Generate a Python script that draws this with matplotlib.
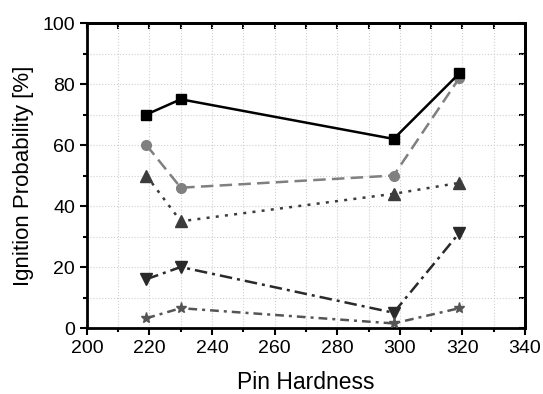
import matplotlib.pyplot as plt
from matplotlib.ticker import MultipleLocator

plt.rcParams['font.family'] = ['Liberation Sans', 'DejaVu Sans']

hardness = [219, 230, 298, 319]
series_sq = [70, 75, 62, 83.5]
series_circ = [60, 46, 50, 82]
series_up = [50, 35, 44, 47.6]
series_down = [16, 20, 5, 31.2]
series_star = [3.2, 6.5, 1.5, 6.5]

fig = plt.figure(figsize=(5.43, 3.94), dpi=100)
ax = fig.add_axes([0.160, 0.1675, 0.807, 0.774])

ax.plot(hardness, series_sq, color='black', ls='-', lw=1.8,
        marker='s', ms=7, zorder=5)
ax.plot(hardness, series_circ, color='#808080', ls=(0, (5, 2.5)), lw=1.8,
        marker='o', ms=7, zorder=4)
ax.plot(hardness, series_up, color='#3c3c3c', ls=(0, (1.2, 2.5)), lw=1.8,
        marker='^', ms=8, zorder=4)
ax.plot(hardness, series_down, color='#2a2a2a', ls=(0, (5, 2, 1.2, 2)), lw=1.8,
        marker='v', ms=8, zorder=4)
ax.plot(hardness, series_star, color='#555555', ls=(0, (3.5, 2, 1.2, 2)), lw=1.8,
        marker='*', ms=8, zorder=4)

ax.set_xlim(200, 340)
ax.set_ylim(0, 100)
ax.xaxis.set_major_locator(MultipleLocator(20))
ax.xaxis.set_minor_locator(MultipleLocator(10))
ax.yaxis.set_major_locator(MultipleLocator(20))
ax.yaxis.set_minor_locator(MultipleLocator(10))
ax.grid(True, which='both', color='#d0d0d0', ls=':', lw=0.8)
ax.set_axisbelow(True)

for s in ax.spines.values():
    s.set_linewidth(2)

ax.tick_params(which='both', direction='out', width=1.5, labelsize=14,
               top=False, right=False)
ax.tick_params(which='major', length=5)
ax.tick_params(which='minor', length=3)
sec_x = ax.secondary_xaxis('top')
sec_x.xaxis.set_major_locator(MultipleLocator(10))
sec_x.tick_params(direction='in', length=4, width=1.5, labeltop=False)
sec_y = ax.secondary_yaxis('right')
sec_y.yaxis.set_major_locator(MultipleLocator(10))
sec_y.tick_params(direction='in', length=4, width=1.5, labelright=False)
sec_x.spines['top'].set_linewidth(2)
sec_y.spines['right'].set_linewidth(2)

ax.set_xlabel('Pin Hardness', fontsize=16.5, labelpad=10)
ax.set_ylabel('Ignition Probability [%]', fontsize=16, labelpad=6)

fig.savefig('out.png', dpi=100)
